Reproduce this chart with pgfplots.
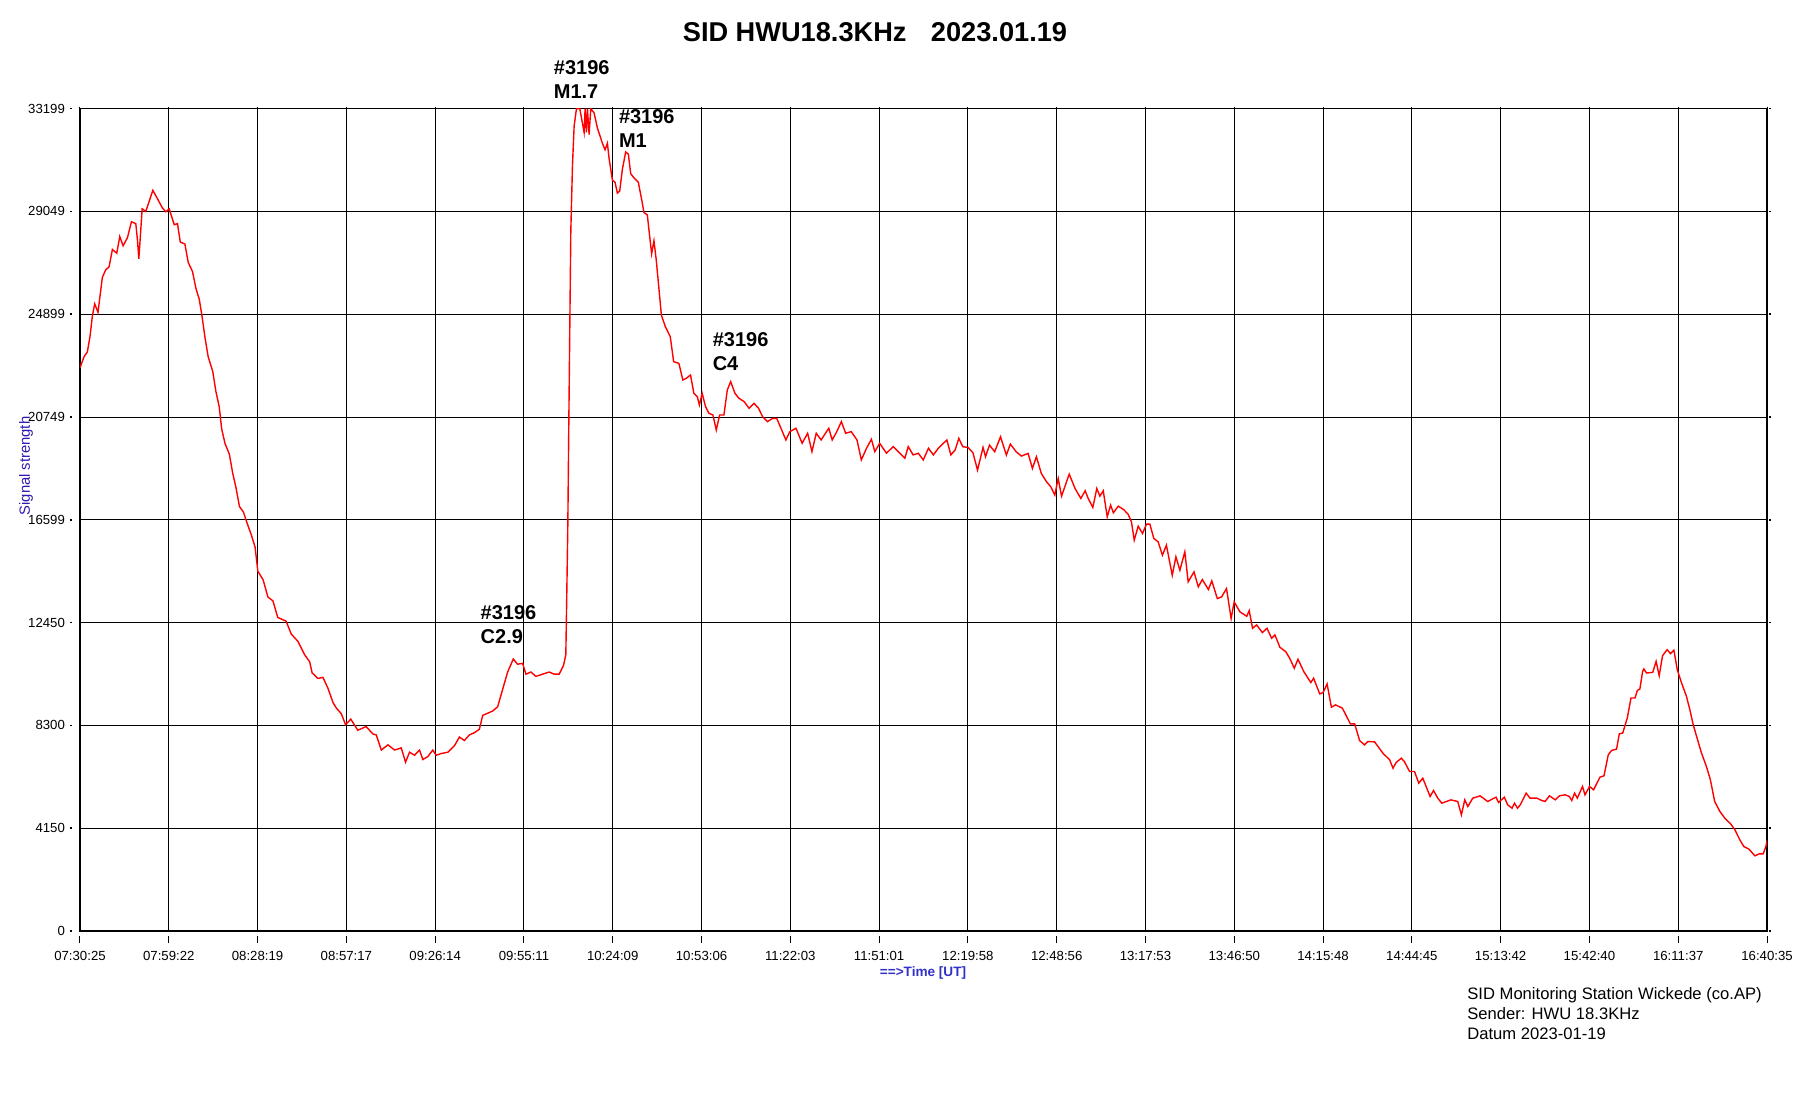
\documentclass[border=0pt]{standalone}
\usepackage{pgfplots}
\pgfplotsset{compat=1.18}
\usepackage{fontspec}
\setmainfont{Liberation Sans}
\definecolor{lblblue}{RGB}{45,25,175}
\definecolor{xlblue}{RGB}{50,50,200}
\pgfplotstableread{
t v
0 22734
1.31 23182
2.4 23377
3.27 24003
4.03 24824
4.8 25317
5.88 24974
6.54 25646
7.3 26392
8.39 26690
9.48 26810
10.57 27511
11.99 27362
12.97 28034
14.06 27661
15.47 27989
16.78 28631
18.2 28556
18.74 27885
19.18 27138
19.6 27885
20.27 29153
21.47 29049
22.56 29452
23.76 29900
25.28 29556
26.9 29183
28.0 29034
29.1 29153
30.73 28512
31.8 28556
32.7 27810
34.2 27735
35.3 26989
36.7 26616
37.8 25944
38.9 25496
39.7 24899
40.8 23929
41.8 23182
43.3 22585
44.3 21794
45.4 21167
46.2 20272
47.3 19674
48.7 19256
49.8 18480
50.9 17882
52.0 17136
53.3 16912
54.5 16464
55.8 16017
57.1 15494
58.0 14524
59.7 14181
61.3 13479
62.9 13330
64.5 12658
67.2 12509
68.9 11987
71.1 11688
73.2 11165
74.9 10867
75.7 10419
77.6 10195
79.2 10240
80.8 9822
82.5 9225
83.6 9001
85.2 8777
86.6 8329
88.3 8553
90.6 8105
93.3 8254
95.5 7956
96.62 7917
98.25 7305
100.42 7515
102.59 7305
104.76 7393
106.17 6815
107.47 7217
109.10 7095
110.72 7305
111.81 6920
113.43 7043
115.06 7305
116.15 7095
117.77 7165
119.94 7217
122.11 7480
123.74 7830
125.36 7690
126.99 7917
128.62 8005
130.24 8145
131.33 8705
132.95 8792
134.58 8880
136.21 9055
137.83 9755
139.46 10455
141.30 10980
142.71 10770
144.34 10805
145.43 10368
147.05 10455
148.68 10280
150.85 10368
153.02 10455
154.64 10368
156.27 10368
157.68 10718
158.44 11155
158.77 13779
159.09 16403
159.42 20600
159.74 24452
160.07 28300
160.61 30925
161.15 32499
161.91 33199
162.99 33199
164.40 32237
164.73 33199
165.16 32237
165.49 33199
166.03 32150
166.57 33199
167.66 33024
168.74 32412
170.37 31799
171.24 31537
172.00 31800
172.54 31187
173.63 30312
174.49 30225
175.25 29787
176.01 29870
176.88 30750
177.96 31449
178.83 31362
179.59 30574
180.67 30400
182.08 30225
183.17 29525
183.93 28999
185.01 28912
185.55 28300
186.42 27338
187.18 27863
187.94 27075
189.6 24864
190.9 24394
192.5 23991
193.6 22982
195.3 22915
196.6 22243
197.7 22311
199.1 22445
200.2 21705
201.3 21571
202.0 21235
202.9 21705
204.0 21168
205.1 20899
206.4 20832
207.5 20227
208.6 20832
210.0 20832
211.1 21840
212.2 22176
213.6 21705
214.9 21504
216.6 21369
218.2 21100
219.8 21302
221.3 21100
222.6 20764
224.2 20563
225.9 20697
227.2 20697
228.6 20294
230.2 19823
231.5 20159
233.5 20294
235.5 19689
237.3 20092
238.7 19353
240.1 20092
241.7 19823
243.1 20092
244.2 20294
245.3 19823
246.8 20159
248.3 20563
249.7 20092
251.5 20159
253.4 19823
254.8 19017
256.5 19487
258.1 19850
259.2 19353
260.8 19689
263.0 19286
265.2 19555
266.8 19353
269.0 19084
270.1 19555
271.7 19219
273.4 19286
275.0 19017
276.7 19487
278.3 19219
279.9 19487
282.7 19823
284.0 19219
285.4 19420
286.6 19886
287.9 19549
289.6 19522
291.2 19306
292.7 18606
294.5 19522
295.3 19145
296.6 19616
298.3 19347
300.2 19953
302.1 19212
303.4 19657
305.3 19347
307.0 19172
309.2 19280
310.6 18673
311.9 19145
313.5 18471
315.2 18135
316.6 17933
317.9 17596
319.0 18269
320.1 17555
322.6 18444
324.5 17865
326.4 17461
327.8 17771
328.8 17461
330.3 17097
331.6 17865
332.6 17555
333.7 17771
335.0 16720
336.1 17192
337.0 16882
338.6 17151
340.3 17017
341.8 16828
342.9 16518
343.8 15777
345.1 16343
346.5 16047
347.8 16424
348.9 16424
350.2 15845
351.6 15710
353.0 15171
354.3 15575
356.2 14363
357.4 15104
358.7 14565
360.3 15306
361.4 14094
363.3 14498
364.7 13891
366.0 14188
368.0 13784
369.1 14134
370.9 13420
372.3 13488
373.9 13824
375.4 12612
376.4 13285
378.3 12881
380.5 12706
381.3 12934
382.4 12221
383.7 12356
385.6 12047
387.1 12221
388.6 11818
389.7 11950
391.3 11455
393.2 11280
394.5 11011
396.0 10607
397.2 10971
399.1 10473
401.4 10029
402.3 10204
404.3 9572
405.4 9626
406.7 9975
408.1 9034
409.5 9128
411.7 8993
414.3 8361
415.7 8361
417.3 7689
418.9 7514
420.0 7649
422.2 7635
424.9 7178
427.1 6909
428.2 6572
429.2 6801
430.9 6976
431.9 6841
433.6 6438
435.2 6438
436.6 5967
437.9 6169
439.0 5833
440.3 5429
441.4 5671
442.8 5362
444.1 5160
445.6 5227
447.1 5295
449.3 5227
450.5 4689
451.6 5295
452.6 5026
454.2 5362
456.6 5456
459.1 5227
460.5 5322
461.8 5402
462.6 5187
464.5 5402
465.6 5093
467.0 4958
467.8 5160
468.8 4958
469.7 5094
471.6 5566
472.9 5364
475.1 5364
476.7 5269
477.8 5229
479.2 5458
481.1 5296
482.5 5458
484.3 5498
485.7 5431
486.5 5269
487.4 5566
488.3 5364
490.0 5835
490.8 5498
492.3 5835
493.6 5700
495.7 6212
497.0 6266
498.4 7115
499.5 7290
501.1 7344
502.0 7963
503.1 7990
504.6 8596
505.8 9405
507.1 9405
507.9 9714
508.7 9768
509.6 10482
510.0 10576
510.9 10415
512.9 10442
514.0 10886
515.0 10307
516.1 11115
517.6 11358
518.7 11196
519.8 11331
520.9 10549
522.3 10011
523.9 9472
525.0 8933
526.1 8327
527.2 7856
528.8 7182
530.4 6643
531.7 6104
533.1 5229
534.8 4824
536.4 4555
538.3 4326
539.7 4084
541.3 3680
542.6 3410
544.3 3303
546.2 3034
547.6 3114
548.9 3114
549.8 3410
550.17 3653
}\sidtable
\begin{document}
\begin{tikzpicture}
\useasboundingbox (-40pt,-84.5pt) rectangle (856.5pt,465.5pt);
\begin{axis}[
  at={(0,0)}, anchor=south west,
  scale only axis, width=843.5pt, height=411.2pt,
  xmin=0, xmax=550.1667, ymin=0, ymax=33199,
  scaled x ticks=false, scaled y ticks=false,
  xtick={0,28.956,57.912,86.868,115.825,144.781,173.737,202.693,231.649,260.605,289.561,318.518,347.474,376.430,405.386,434.342,463.298,492.254,521.211,550.167},
  xticklabels={07:30:25,07:59:22,08:28:19,08:57:17,09:26:14,09:55:11,10:24:09,10:53:06,11:22:03,11:51:01,12:19:58,12:48:56,13:17:53,13:46:50,14:15:48,14:44:45,15:13:42,15:42:40,16:11:37,16:40:35},
  ytick={0,4150,8300,12450,16599,20749,24899,29049,33199},
  yticklabels={0,4150,8300,12450,16599,20749,24899,29049,33199},
  minor x tick num=5, minor y tick num=4,
  tick align=outside,
  major tick length=3.5pt, minor tick length=1.5pt,
  xtick style={black, line width=0.5pt, yshift=-2.5pt},
  ytick style={black, line width=0.8pt, xshift=-1.5pt},
  every major y tick/.append style={dash pattern=on 1pt off 6pt},
  grid=major,
  major grid style={black, line width=0.5pt},
  axis line style={black, line width=0.6pt},
  /pgf/number format/assume math mode=true,
  xticklabel style={font=\fontsize{6.6}{7}\selectfont, yshift=-3pt},
  yticklabel style={font=\fontsize{6.6}{7}\selectfont, xshift=-0.5pt},
  clip=true,
]
\addplot[red, line width=0.7pt] table[x=t, y=v] {\sidtable};
\end{axis}
\node[font=\bfseries\fontsize{13.6}{16}\selectfont] at (397.5pt,449.5pt) {SID HWU18.3KHz\hspace{0.9em}2023.01.19};
\node[rotate=90, font=\fontsize{7.4}{8}\selectfont, text=lblblue] at (-27pt,232.5pt) {Signal strength};
\node[font=\bfseries\fontsize{6.8}{8}\selectfont, text=xlblue] at (421.5pt,-21pt) {==>Time [UT]};
\begin{scope}[every node/.style={anchor=west, inner sep=0pt, font=\bfseries\fontsize{10}{12}\selectfont}]
\node at (236.75pt,431.75pt) {\#3196};
\node at (236.75pt,419.75pt) {M1.7};
\node at (269.3pt,407.2pt) {\#3196};
\node at (269.3pt,395.2pt) {M1};
\node at (316.2pt,295.7pt) {\#3196};
\node at (316.2pt,283.7pt) {C4};
\node at (200.15pt,159.05pt) {\#3196};
\node at (200.15pt,147.05pt) {C2.9};
\end{scope}
\begin{scope}[every node/.style={anchor=west, inner sep=0pt, font=\fontsize{8.3}{10}\selectfont}]
\node at (693.5pt,-32pt) {SID Monitoring Station Wickede (co.AP)};
\node at (693.5pt,-41.5pt) {Sender: HWU 18.3KHz};
\node at (693.5pt,-51.5pt) {Datum 2023-01-19};
\end{scope}
\end{tikzpicture}
\end{document}
